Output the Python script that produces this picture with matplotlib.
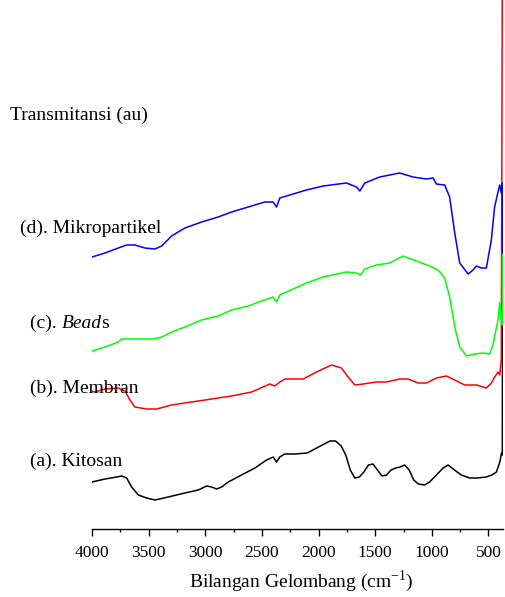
import numpy as np
import matplotlib
matplotlib.use("Agg")
import matplotlib.pyplot as plt
from matplotlib.ticker import MultipleLocator

plt.rcParams['font.family'] = ['Liberation Serif', 'DejaVu Serif']
plt.rcParams['mathtext.fontset'] = 'custom'
plt.rcParams['mathtext.rm'] = 'Liberation Serif'

# spectra (wavenumber cm-1, transmittance in arbitrary units, already offset)
wn_a = [4000, 3885, 3782, 3738, 3694, 3650, 3591, 3518, 3444, 3327, 3180, 3062,
        2988, 2944, 2900, 2856, 2797, 2680, 2562, 2459, 2401, 2371, 2342, 2298,
        2210, 2100, 2000, 1900, 1850, 1800, 1760, 1720, 1680, 1640, 1600, 1560,
        1520, 1480, 1440, 1400, 1360, 1320, 1280, 1240, 1200, 1160, 1120, 1065,
        1020, 960, 900, 857, 800, 740, 666, 600, 519, 470, 430, 400, 385, 378, 376]
t_a = [47, 50, 52, 53, 51, 42, 34, 31, 29, 32, 36, 39,
       43, 42, 40, 42, 47, 54, 61, 69, 72, 67, 72, 75,
       75, 76, 82, 88, 88, 83, 74, 59, 51, 52, 57, 64,
       65, 59, 53, 54, 59, 61, 62, 64, 59, 49, 45, 44,
       47, 54, 61, 64, 59, 54, 51, 51, 52, 54, 57, 67, 76, 74, 229]

wn_b = [4000, 3974, 3885, 3768, 3709, 3665, 3621, 3518, 3430, 3297, 3121, 2944,
        2768, 2591, 2430, 2386, 2342, 2298, 2210, 2136, 2018, 1886, 1798, 1739,
        1680, 1607, 1489, 1401, 1284, 1210, 1121, 1048, 960, 872, 798, 710,
        607, 519, 475, 446, 416, 401, 387, 376]
t_b = [138, 137, 140, 141, 138, 129, 122, 120, 120, 124, 127, 130,
       133, 137, 145, 143, 147, 150, 150, 150, 157, 164, 161, 152,
       144, 145, 147, 147, 150, 150, 146, 146, 151, 153, 149, 144,
       144, 141, 146, 152, 157, 154, 169, 640]

wn_c = [4000, 3885, 3768, 3738, 3621, 3459, 3385, 3297, 3180, 3032, 2886, 2768,
        2621, 2503, 2401, 2371, 2342, 2225, 2107, 1960, 1754, 1665, 1630, 1592,
        1489, 1372, 1254, 1136, 1019, 946, 887, 843, 798, 754, 695, 622,
        548, 490, 461, 416, 401, 387, 378, 376]
t_c = [178, 182, 187, 190, 190, 190, 192, 197, 202, 209, 213, 219,
       223, 228, 232, 227, 234, 240, 246, 252, 257, 256, 254, 260,
       264, 266, 273, 268, 263, 259, 251, 232, 202, 182, 173, 175,
       176, 175, 184, 209, 227, 206, 204, 276]

wn_d = [4000, 3885, 3768, 3694, 3621, 3533, 3444, 3385, 3297, 3180, 3032, 2886,
        2768, 2621, 2474, 2401, 2371, 2342, 2225, 2107, 1960, 1754, 1665, 1636,
        1592, 1460, 1284, 1166, 1048, 989, 960, 887, 843, 798, 754, 680,
        636, 607, 563, 519, 475, 446, 416, 401, 387, 378, 376]
t_d = [272, 276, 281, 284, 284, 281, 280, 283, 293, 301, 307, 312,
       317, 322, 327, 327, 322, 331, 335, 339, 343, 346, 342, 338,
       346, 352, 356, 352, 350, 351, 345, 344, 332, 296, 266, 255,
       259, 263, 261, 261, 289, 322, 337, 344, 336, 346, 276]

labels = ['(d). Mikropartikel', '(b). Membran', '(a). Kitosan']

W, H = 505, 597
fig = plt.figure(figsize=(W / 100, H / 100), dpi=100)
ax = fig.add_axes([92 / W, 68 / H, 411 / W, 529 / H])

ax.plot(wn_a, t_a, color='black', lw=1.1)
ax.plot(wn_b, t_b, color='#ff0000', lw=1.1)
ax.plot(wn_c, t_c, color='#00ff00', lw=1.1)
ax.plot(wn_d, t_d, color='#0000ff', lw=1.1)

ax.set_xlim(4000, 372)
ax.set_ylim(0, 529)
for s in ['left', 'right', 'top']:
    ax.spines[s].set_visible(False)
ax.spines['bottom'].set_linewidth(1.0)
ax.set_yticks([])
ax.xaxis.set_major_locator(MultipleLocator(500))
ax.xaxis.set_minor_locator(MultipleLocator(250))
ax.tick_params(axis='x', which='major', direction='out', length=5, width=1.0,
               labelsize=12.5, pad=6.5)
ax.tick_params(axis='x', which='minor', direction='out', length=2.5, width=1.0)
ax.set_xticks(np.arange(4000, 499, -500))

def px(x, y):
    return x / W, 1 - y / H

fs = 14
fig.text(*px(10, 115), 'Transmitansi (au)', fontsize=fs, va='center')
fig.text(*px(20, 228), labels[0], fontsize=fs, va='center')
t1 = fig.text(*px(30, 328), '(c). ', fontsize=fs, va='baseline')
t2 = ax.annotate('Bead', xy=(1, 0), xycoords=t1, fontsize=fs, style='italic',
                 va='bottom', ha='left')
ax.annotate('s', xy=(1, 0), xycoords=t2, fontsize=fs, va='bottom', ha='left')
fig.text(*px(30, 388), labels[1], fontsize=fs, va='center')
fig.text(*px(30, 461), labels[2], fontsize=fs, va='center')
fig.text(*px(301, 581), r'Bilangan Gelombang (cm$^{\mathrm{-1}}$)', fontsize=fs,
         ha='center', va='center')

fig.savefig('out.png', dpi=100)
